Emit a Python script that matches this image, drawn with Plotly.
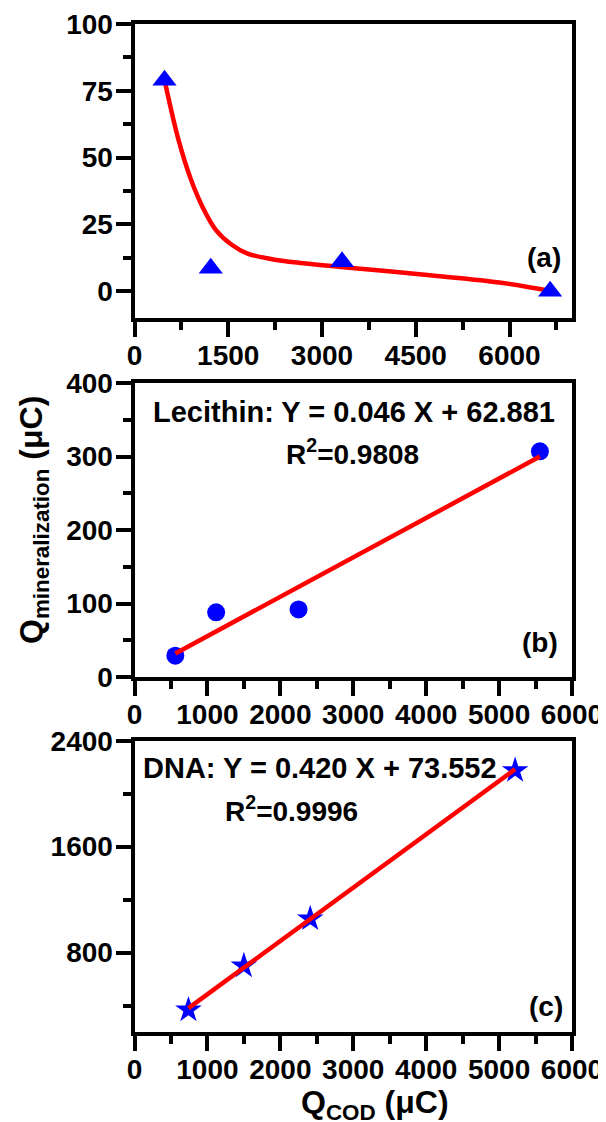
import plotly.graph_objects as go

W, H = 606, 1122
OFF = 8  # default page body margin of the written html

# ---- data ----
# panel (a)
a_x = [480, 1220, 3320, 6650]
a_y = [79, 8.6, 11, 0]
a_fit_x = [490, 700, 900, 1100, 1300, 1550, 1800, 2200, 2700, 3300, 4600, 5800, 6620]
a_fit_y = [78, 57, 42, 31, 23, 17.5, 14.2, 12, 10.5, 9.1, 6.3, 3.4, 0.3]
# panel (b) lecithin
b_x = [560, 1120, 2250, 5560]
b_y = [29, 88, 92, 307]
b_fit_x = [560, 5560]
b_fit_y = [32, 300]
# panel (c) DNA
c_x = [740, 1500, 2410, 5220]
c_y = [367, 700, 1055, 2175]
c_fit_x = [740, 5220]
c_fit_y = [380, 2185]

a_xticks = [0, 1500, 3000, 4500, 6000]
a_yticks = [0, 25, 50, 75, 100]
b_xticks = [0, 1000, 2000, 3000, 4000, 5000, 6000]
b_yticks = [0, 100, 200, 300, 400]
c_xticks = [0, 1000, 2000, 3000, 4000, 5000, 6000]
c_yticks = [800, 1600, 2400]

BLUE = "#0000FF"
RED = "#FF0000"
FONT = "Liberation Sans, Arial, sans-serif"


def px_x(p):
    return (p - OFF) / W


def px_y(p):
    return 1 - (p - OFF) / H


fig = go.Figure()

# panel (a)
fig.add_trace(go.Scatter(x=a_fit_x, y=a_fit_y, mode="lines",
                         line=dict(color=RED, width=4.5, shape="spline", smoothing=1.0),
                         xaxis="x", yaxis="y", showlegend=False))
fig.add_trace(go.Scatter(x=a_x, y=a_y, mode="markers",
                         marker=dict(symbol="triangle-up", size=21, color=BLUE),
                         xaxis="x", yaxis="y", showlegend=False))
# panel (b)
fig.add_trace(go.Scatter(x=b_x, y=b_y, mode="markers",
                         marker=dict(symbol="circle", size=18, color=BLUE),
                         xaxis="x2", yaxis="y2", showlegend=False))
fig.add_trace(go.Scatter(x=b_fit_x, y=b_fit_y, mode="lines", line=dict(color=RED, width=4.5),
                         xaxis="x2", yaxis="y2", showlegend=False))
# panel (c)
fig.add_trace(go.Scatter(x=c_x, y=c_y, mode="markers",
                         marker=dict(symbol="star", size=20, color=BLUE),
                         xaxis="x3", yaxis="y3", showlegend=False))
fig.add_trace(go.Scatter(x=c_fit_x, y=c_fit_y, mode="lines", line=dict(color=RED, width=4.5),
                         xaxis="x3", yaxis="y3", showlegend=False))


def axis(domain, rng, tickvals, minor_dtick, anchor, standoff):
    return dict(
        domain=domain, range=rng, anchor=anchor, automargin=False,
        tickmode="array", tickvals=tickvals,
        showline=True, linewidth=4, linecolor="black", mirror=True,
        ticks="outside", ticklen=15, tickwidth=4, tickcolor="black",
        ticklabelstandoff=standoff,
        minor=dict(ticks="outside", ticklen=8, tickwidth=4, tickcolor="black",
                   tick0=0, dtick=minor_dtick),
        showgrid=False, zeroline=False,
        tickfont=dict(family=FONT, size=28, color="black", weight="bold"),
    )


xd = [px_x(134.5), px_x(572)]
fig.update_layout(
    width=W, height=H,
    margin=dict(l=0, r=0, t=0, b=0, autoexpand=False),
    paper_bgcolor="white", plot_bgcolor="white",
    font=dict(family=FONT, color="black", weight="bold"),
    xaxis=axis(xd, [0, 7000], a_xticks, 750, "y", -6),
    yaxis=axis([px_y(318), px_y(24)], [-10, 100], a_yticks, 12.5, "x", -3),
    xaxis2=axis(xd, [0, 6000], b_xticks, 500, "y2", -6),
    yaxis2=axis([px_y(677), px_y(383)], [0, 400], b_yticks, 50, "x2", -3),
    xaxis3=axis(xd, [0, 6000], c_xticks, 500, "y3", -6),
    yaxis3=axis([px_y(1032), px_y(740.7)], [200, 2400], c_yticks, 400, "x3", -3),
)


def ann(text, x, y, size, **kw):
    d = dict(text=text, x=px_x(x), y=px_y(y), xref="paper", yref="paper", showarrow=False,
             font=dict(family=FONT, size=size, color="black", weight="bold"),
             xanchor="center", yanchor="middle")
    d.update(kw)
    fig.add_annotation(**d)


ann("(a)", 543.5, 258, 28)
ann("(b)", 540, 642, 28)
ann("(c)", 546, 1006, 28)
ann("Lecithin: Y = 0.046 X + 62.881", 354.5, 412, 29)
ann("R<sup>2</sup>=0.9808", 352, 452, 28)
ann("DNA: Y = 0.420 X + 73.552", 320, 768, 29)
ann("R<sup>2</sup>=0.9996", 291, 809, 28)
ann("Q<sub>mineralization</sub> (μC)", 34, 520, 32, textangle=-90)
ann("Q<sub>COD</sub> (μC)", 375, 1104, 32)

fig.write_html("out.html")
